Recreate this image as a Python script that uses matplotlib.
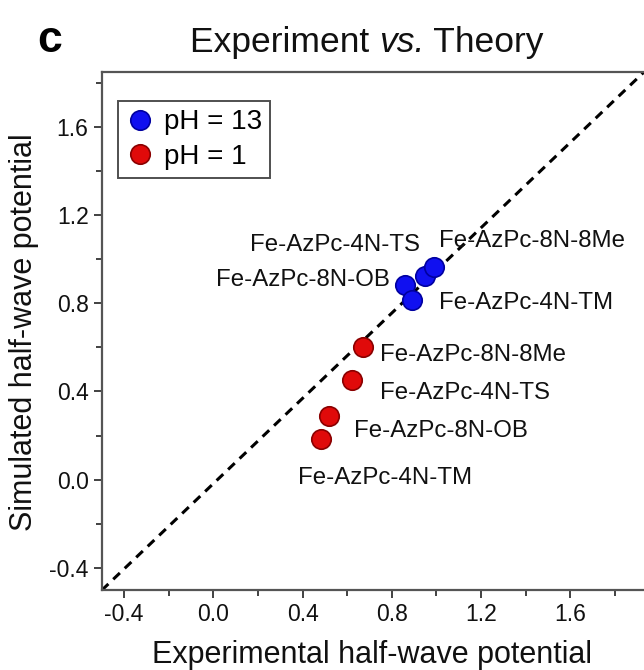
import numpy as np
import matplotlib
matplotlib.use("Agg")
import matplotlib.pyplot as plt
from matplotlib.ticker import MultipleLocator

plt.rcParams['font.family'] = ['Liberation Sans', 'DejaVu Sans']
plt.rcParams['axes.unicode_minus'] = False

# experimental vs simulated half-wave potentials
names = ['Fe-AzPc-8N-OB', 'Fe-AzPc-4N-TM', 'Fe-AzPc-4N-TS', 'Fe-AzPc-8N-8Me']
exp_ph13 = [0.860, 0.889, 0.950, 0.987]
sim_ph13 = [0.883, 0.815, 0.924, 0.964]
exp_ph1 = [0.517, 0.483, 0.622, 0.671]
sim_ph1 = [0.288, 0.186, 0.451, 0.603]
tick_vals = [-0.4, 0.0, 0.4, 0.8, 1.2, 1.6]

# label offsets (pixels) and alignment per point
off_ph13 = [(-15, 5, 'right'), (27, -3, 'left'), (-5, 31, 'right'), (5, 26, 'left')]
off_ph1 = [(25, -15, 'left'), (-23, -39, 'left'), (28, -13, 'left'), (17, -8, 'left')]

W, H = 644, 670
fig = plt.figure(figsize=(W / 100, H / 100), dpi=100)
ax = fig.add_axes([0.158, 0.119, 0.842, 0.7735])

# y = x guide, corner to corner
ax.plot([0, 1], [0, 1], transform=ax.transAxes, ls=(0, (3, 2.2)), color='black', lw=2.2, zorder=1)

ax.plot(exp_ph13, sim_ph13, 'o', ms=14, mfc='#1010f0', mec='#0000a0', mew=1.2, zorder=3, label='pH = 13')
ax.plot(exp_ph1, sim_ph1, 'o', ms=14, mfc='#e00a0a', mec='#8a0000', mew=1.2, zorder=3, label='pH = 1')

for xs, ys, offs in [(exp_ph13, sim_ph13, off_ph13), (exp_ph1, sim_ph1, off_ph1)]:
    for x, y, n, (dx, dy, ha) in zip(xs, ys, names, offs):
        ax.annotate(n, (x, y), xytext=(dx, dy), textcoords='offset pixels',
                    ha=ha, va='center', fontsize=17.3, color='#111111')

ax.set_xlim(-0.5, 1.93)
ax.set_ylim(-0.503, 1.851)
ax.set_xticks(tick_vals)
ax.set_yticks(tick_vals)
ax.set_xticklabels(['%.1f' % v for v in tick_vals])
ax.set_yticklabels(['%.1f' % v for v in tick_vals])
ax.xaxis.set_minor_locator(MultipleLocator(0.2))
ax.yaxis.set_minor_locator(MultipleLocator(0.2))
ax.tick_params(which='major', direction='out', length=6, width=1.3, labelsize=16.5, colors='#333333', labelcolor='#111111')
ax.tick_params(which='minor', direction='out', length=4, width=1.3, colors='#333333')
for s in ['left', 'bottom', 'top']:
    ax.spines[s].set_linewidth(1.6)
    ax.spines[s].set_color('#555555')
ax.spines['right'].set_visible(False)

fig.text(372 / W, 1 - 663 / H, 'Experimental half-wave potential', ha='center', va='baseline',
         fontsize=22, color='#111111')
fig.text(24 / W, 1 - 332 / H, 'Simulated half-wave potential', ha='center', va='center',
         rotation=90, fontsize=22, color='#111111')
fig.text(50 / W, 1 - 52 / H, 'c', ha='center', va='baseline', fontsize=32, fontweight='bold')

# title with italic "vs."
parts = [('Experiment ', 'normal'), ('vs.', 'italic'), (' Theory', 'normal')]
r = fig.canvas.get_renderer()
widths = []
for s, st in parts:
    t = fig.text(0, 0, s, fontsize=25.5, fontstyle=st)
    widths.append(t.get_window_extent(r).width)
    t.remove()
x0 = 367 - sum(widths) / 2
for (s, st), w in zip(parts, widths):
    fig.text(x0 / W, 1 - 52 / H, s, ha='left', va='baseline', fontsize=25.5, fontstyle=st, color='#111111')
    x0 += w

leg = ax.legend(loc='upper left', bbox_to_anchor=(0.03, 0.944), borderaxespad=0, fontsize=20,
                frameon=True, fancybox=False, handletextpad=0.35, borderpad=0.3,
                labelspacing=0.3, handlelength=1.0, markerscale=1.0)
leg.get_frame().set_edgecolor('#222222')
leg.get_frame().set_linewidth(1.4)

fig.savefig('out.png', dpi=100)
